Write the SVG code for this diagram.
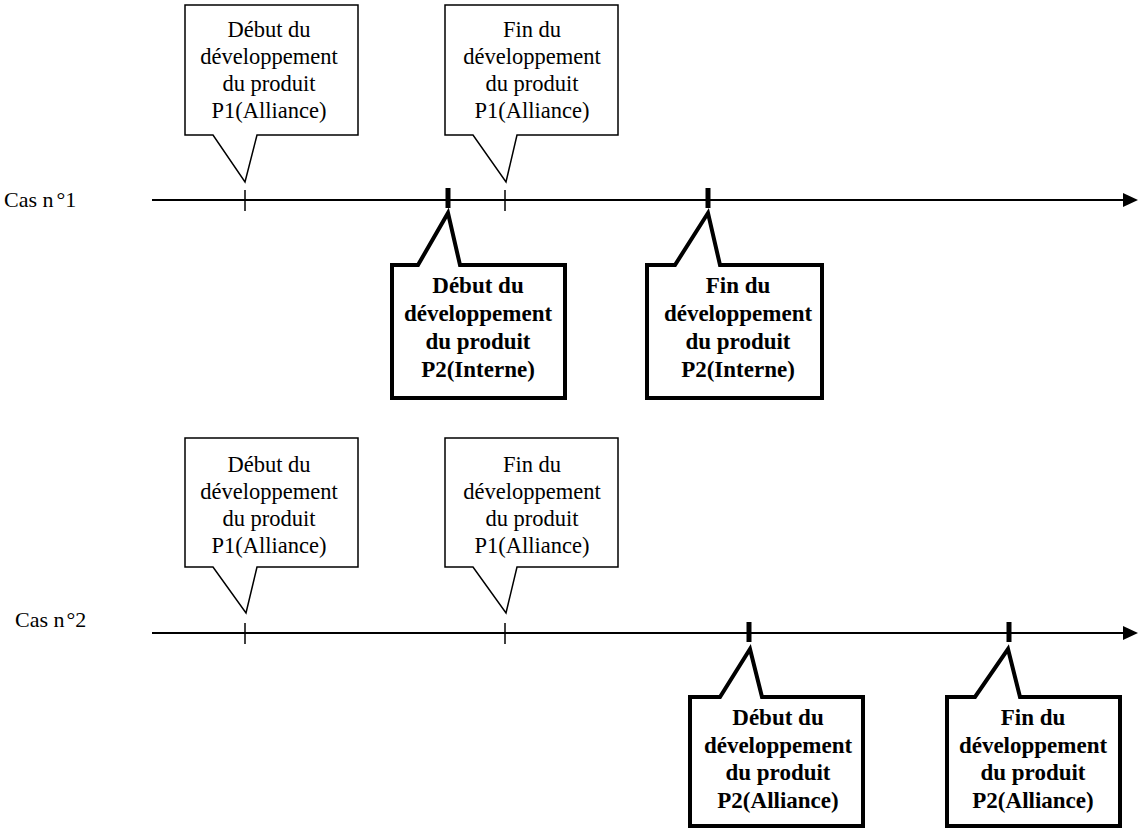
<svg xmlns="http://www.w3.org/2000/svg" width="1139" height="829" viewBox="0 0 1139 829">
<style>
.bg{fill:#fff}
.thin{fill:#fff;stroke:#000;stroke-width:1.5;stroke-linejoin:miter}
.bold{fill:#fff;stroke:#000;stroke-width:4;stroke-linejoin:miter}
.axis{stroke:#000;stroke-width:2;fill:none}
.tk{stroke:#000;stroke-width:1.5}
.tkb{stroke:#000;stroke-width:5}
.t{font-family:"Liberation Serif","Times New Roman",serif;font-size:22.5px;fill:#000;text-anchor:middle}
.tb{font-family:"Liberation Serif","Times New Roman",serif;font-size:23px;font-weight:bold;fill:#000;text-anchor:middle}
.lab{font-family:"Liberation Serif","Times New Roman",serif;font-size:22px;fill:#000}
</style>
<rect class="bg" x="0" y="0" width="1139" height="829"/>

<g id="connectors">
  <line class="axis" x1="152" y1="200" x2="1124" y2="200"/>
  <polygon points="1123,193 1138,200 1123,207" fill="#000"/>
  <line class="tk" x1="245" y1="190" x2="245" y2="211"/>
  <line class="tk" x1="505" y1="190" x2="505" y2="211"/>
  <line class="tkb" x1="448" y1="188" x2="448" y2="208"/>
  <line class="tkb" x1="708" y1="188" x2="708" y2="208"/>

  <line class="axis" x1="152" y1="633" x2="1124" y2="633"/>
  <polygon points="1123,626 1138,633 1123,640" fill="#000"/>
  <line class="tk" x1="245" y1="623" x2="245" y2="644"/>
  <line class="tk" x1="505" y1="623" x2="505" y2="644"/>
  <line class="tkb" x1="749" y1="622" x2="749" y2="642"/>
  <line class="tkb" x1="1009" y1="622" x2="1009" y2="642"/>
</g>

<g id="label-cas1"><text class="lab" x="4" y="207">Cas n<tspan dx="3">°1</tspan></text></g>
<g id="label-cas2"><text class="lab" x="15" y="627">Cas n<tspan dx="2">°2</tspan></text></g>

<g id="c1-debut-p1">
  <path class="thin" d="M185,5 H358 V135 H257 L245,182 L213,135 H185 Z"/>
  <text class="t" x="269" y="37">Début du</text>
  <text class="t" x="269" y="64">développement</text>
  <text class="t" x="269" y="91">du produit</text>
  <text class="t" x="269" y="118">P1(Alliance)</text>
</g>
<g id="c1-fin-p1">
  <path class="thin" d="M445,5 H618 V135 H517 L506,182 L473,135 H445 Z"/>
  <text class="t" x="532" y="37">Fin du</text>
  <text class="t" x="532" y="64">développement</text>
  <text class="t" x="532" y="91">du produit</text>
  <text class="t" x="532" y="118">P1(Alliance)</text>
</g>
<g id="c1-debut-p2">
  <path class="bold" d="M392,265 H418 L448,213 L460,265 H565 V398 H392 Z"/>
  <text class="tb" x="478" y="293">Début du</text>
  <text class="tb" x="478" y="321">développement</text>
  <text class="tb" x="478" y="349">du produit</text>
  <text class="tb" x="478" y="377">P2(Interne)</text>
</g>
<g id="c1-fin-p2">
  <path class="bold" d="M647,265 H675 L708,213 L720,265 H822 V398 H647 Z"/>
  <text class="tb" x="738" y="293">Fin du</text>
  <text class="tb" x="738" y="321">développement</text>
  <text class="tb" x="738" y="349">du produit</text>
  <text class="tb" x="738" y="377">P2(Interne)</text>
</g>

<g id="c2-debut-p1">
  <path class="thin" d="M185,438 H358 V567 H257 L246,613 L213,567 H185 Z"/>
  <text class="t" x="269" y="472">Début du</text>
  <text class="t" x="269" y="499">développement</text>
  <text class="t" x="269" y="526">du produit</text>
  <text class="t" x="269" y="553">P1(Alliance)</text>
</g>
<g id="c2-fin-p1">
  <path class="thin" d="M445,438 H618 V567 H517 L506,613 L473,567 H445 Z"/>
  <text class="t" x="532" y="472">Fin du</text>
  <text class="t" x="532" y="499">développement</text>
  <text class="t" x="532" y="526">du produit</text>
  <text class="t" x="532" y="553">P1(Alliance)</text>
</g>
<g id="c2-debut-p2">
  <path class="bold" d="M690,697 H720 L750,649 L762,697 H863 V826 H690 Z"/>
  <text class="tb" x="778" y="725">Début du</text>
  <text class="tb" x="778" y="753">développement</text>
  <text class="tb" x="778" y="780">du produit</text>
  <text class="tb" x="778" y="808">P2(Alliance)</text>
</g>
<g id="c2-fin-p2">
  <path class="bold" d="M947,697 H975 L1008,649 L1020,697 H1120 V826 H947 Z"/>
  <text class="tb" x="1033" y="725">Fin du</text>
  <text class="tb" x="1033" y="753">développement</text>
  <text class="tb" x="1033" y="780">du produit</text>
  <text class="tb" x="1033" y="808">P2(Alliance)</text>
</g>
</svg>
